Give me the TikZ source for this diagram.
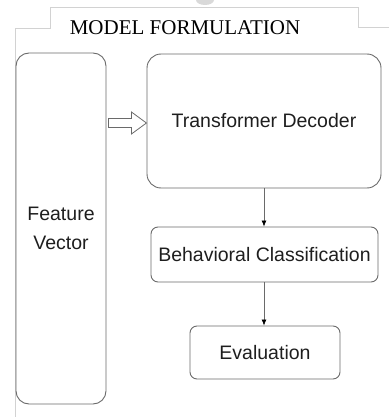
\documentclass[tikz,border=0pt]{standalone}
\usepackage{fontspec}
\setmainfont{Liberation Serif}
\newfontfamily\boxfont{Liberation Sans}
\usetikzlibrary{arrows.meta,calc}
\definecolor{framegray}{HTML}{D2D2D2}
\definecolor{boxgray}{HTML}{6A6A6A}
\definecolor{txt}{HTML}{1E1E1E}
\tikzset{
  blk/.style={draw=boxgray, line width=0.9pt, text=txt, align=center,
    font=\boxfont\fontsize{19.5}{29}\selectfont, inner sep=0pt},
  conn/.style={draw=boxgray, line width=0.7pt, -{Latex[length=6pt,width=5pt,color=black]}},
}
\begin{document}
\begin{tikzpicture}[x=1pt,y=-1pt]
\useasboundingbox (0,0) rectangle (389,417);
% faint artifact at top
\fill[gray!30] (205,0) ellipse [x radius=9, y radius=5];
% outer frame
\draw[framegray, line width=0.8pt] (389,27) -- (358,27) -- (358,7) -- (50,7) -- (50,28) -- (15,28) -- (15,417);
% title
\node[anchor=base, font=\fontsize{21}{25}\selectfont, text=black, inner sep=0pt] (title) at (185,35) {MODEL FORMULATION};
% boxes
\node[blk, rounded corners=13pt, minimum width=90pt, minimum height=351pt] (fv) at (61,228.5) {Feature\\Vector};
\node[blk, rounded corners=14pt, minimum width=234pt, minimum height=134pt] (td) at (264,121) {Transformer Decoder};
\node[blk, rounded corners=7pt, minimum width=227pt, minimum height=55pt] (bc) at (264.5,254.5) {Behavioral Classification};
\node[blk, rounded corners=7pt, minimum width=150pt, minimum height=53pt] (ev) at (265,352.5) {Evaluation};
% connectors
\draw[conn] (td.south) -- (bc.north -| td.south);
\draw[conn] (bc.south -| td.south) -- (ev.north -| td.south);
% hollow arrow
\coordinate (ha) at ($(fv.east |- td.west)+(2,2)$);
\draw[boxgray, line width=0.8pt, fill=white, line join=miter]
  (ha) ++(0,-4.5) -- ++(23,0) -- ++(0,-6.5) -- ++(15,11) -- ++(-15,11) -- ++(0,-6.5) -- ++(-23,0) -- cycle;
\end{tikzpicture}
\end{document}
